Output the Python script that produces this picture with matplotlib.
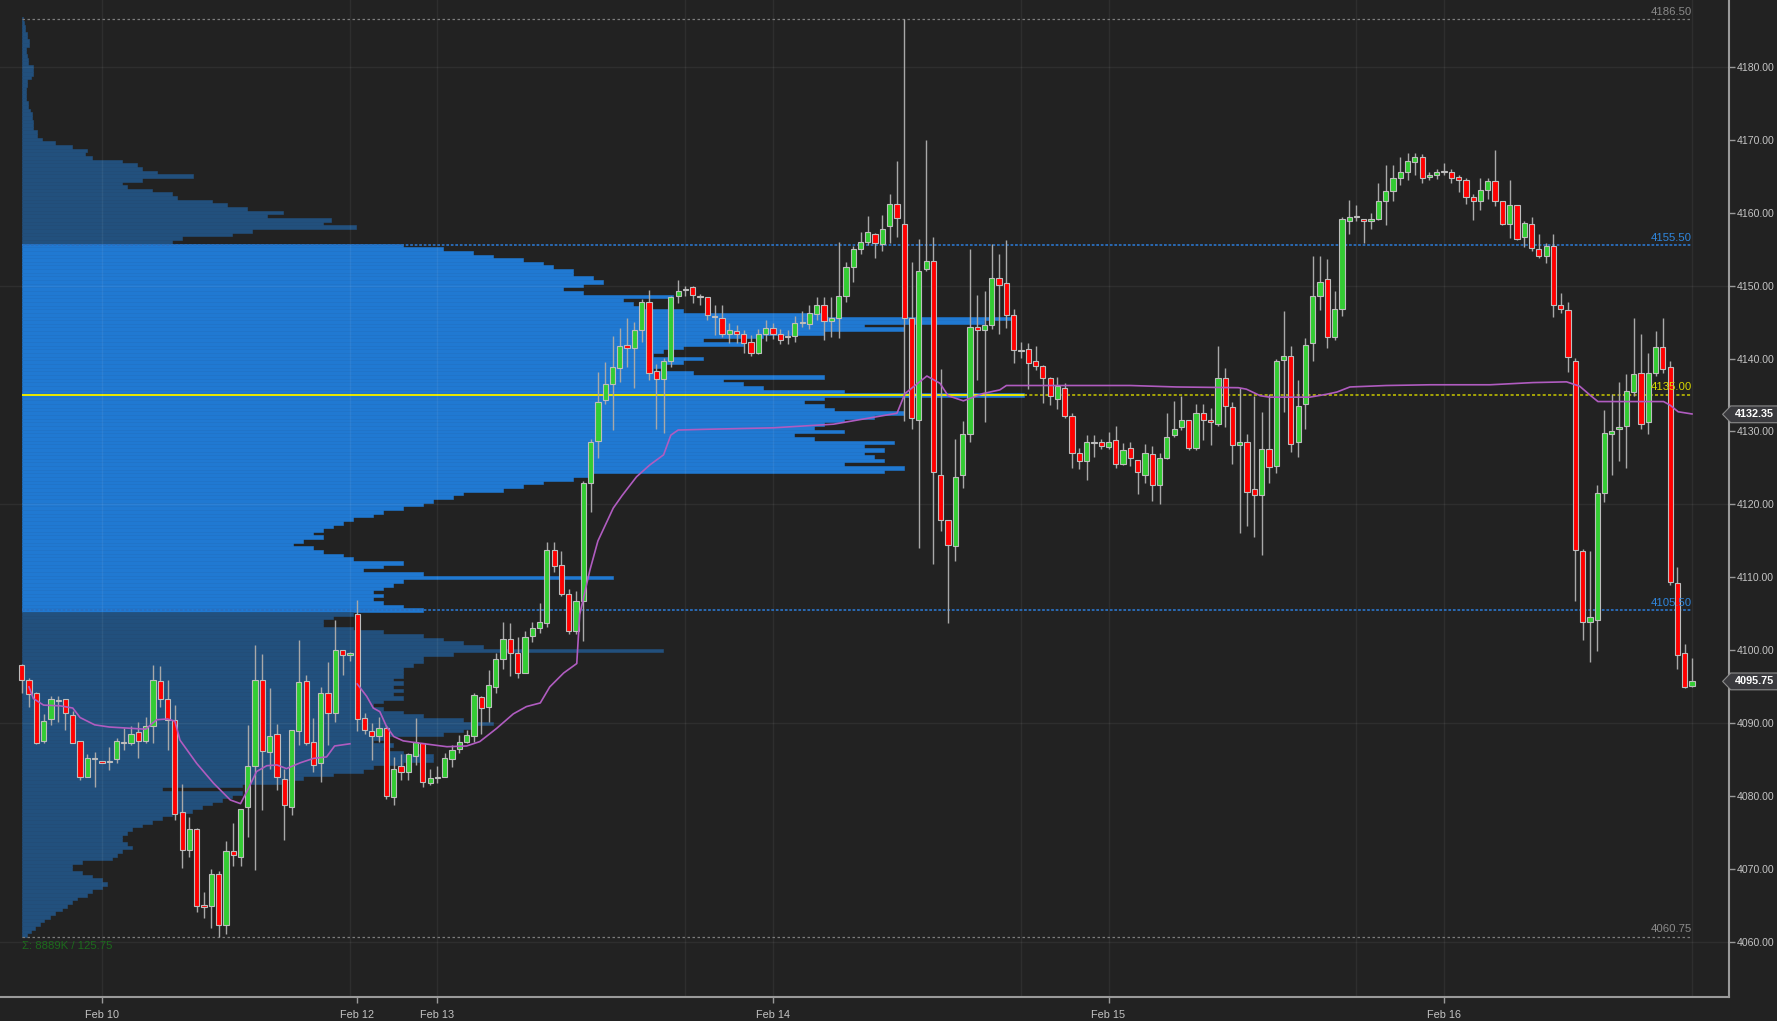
import numpy as np
import matplotlib
matplotlib.use("Agg")
import matplotlib.pyplot as plt
from matplotlib.patches import Polygon
from matplotlib.transforms import blended_transform_factory

plt.rcParams['font.family'] = ['Liberation Sans', 'DejaVu Sans']

# ES 30 min bars, Feb 9 evening .. Feb 16 close
opens = [
    4098.0, 4096.0, 4094.2, 4087.6, 4090.6, 4093.1, 4093.3, 4091.1, 4087.6, 4082.6,
    4085.1, 4084.8, 4084.7, 4085.1, 4087.5, 4087.3, 4088.8, 4087.6, 4089.6, 4095.8,
    4093.3, 4090.4, 4077.8, 4072.7, 4075.5, 4065.1, 4065.0, 4069.4, 4062.4, 4072.5,
    4071.7, 4078.5, 4084.1, 4095.9, 4086.1, 4088.5, 4082.4, 4078.5, 4089.0, 4095.8,
    4087.5, 4084.5, 4094.2, 4091.4, 4100.1, 4099.4, 4105.0, 4090.8, 4089.0, 4088.3,
    4089.3, 4079.9, 4084.1, 4083.4, 4085.5, 4087.3, 4081.8, 4082.5, 4082.7, 4085.1,
    4086.5, 4087.5, 4088.3, 4093.6, 4092.3, 4095.0, 4098.8, 4101.5, 4099.7, 4096.9,
    4102.0, 4103.0, 4103.7, 4113.8, 4111.7, 4107.7, 4102.7, 4106.7, 4122.9, 4128.7,
    4134.3, 4136.5, 4138.7, 4141.8, 4141.5, 4143.9, 4147.7, 4138.3, 4137.2, 4139.6,
    4148.5, 4149.4, 4149.8, 4148.6, 4148.4, 4145.7, 4145.6, 4143.3, 4143.8, 4143.3,
    4142.3, 4140.8, 4143.3, 4144.2, 4143.3, 4143.0, 4143.1, 4145.0, 4144.7, 4146.1,
    4147.3, 4145.1, 4145.6, 4148.6, 4152.6, 4155.0, 4156.0, 4157.1, 4155.7, 4158.1,
    4161.2, 4158.5, 4145.6, 4131.6, 4152.3, 4153.3, 4124.1, 4117.9, 4114.3, 4124.1,
    4129.6, 4144.3, 4143.9, 4144.6, 4151.0, 4150.4, 4146.0, 4141.0, 4141.3, 4139.6,
    4139.0, 4137.3, 4134.5, 4136.0, 4132.1, 4127.1, 4125.9, 4128.4, 4128.6, 4127.9,
    4128.8, 4125.5, 4127.8, 4126.1, 4124.1, 4126.9, 4122.6, 4126.3, 4129.5, 4130.6,
    4131.6, 4127.8, 4132.6, 4131.6, 4131.0, 4137.3, 4133.3, 4128.1, 4128.6, 4122.1,
    4121.3, 4127.6, 4125.3, 4139.8, 4140.3, 4128.6, 4133.8, 4142.1, 4148.6, 4150.9,
    4142.9, 4146.8, 4158.9, 4159.4, 4159.1, 4158.9, 4159.1, 4161.6, 4162.9, 4164.8,
    4165.5, 4166.9, 4167.6, 4164.9, 4165.2, 4165.6, 4165.5, 4164.9, 4164.4, 4162.1,
    4161.6, 4163.1, 4164.3, 4161.6, 4158.5, 4161.0, 4156.6, 4158.5, 4155.0, 4154.0,
    4155.4, 4147.3, 4146.6, 4139.7, 4113.6, 4103.9, 4104.2, 4121.6, 4129.7, 4130.3,
    4130.8, 4135.4, 4138.0, 4131.3, 4138.0, 4141.6, 4138.8, 4109.3, 4099.6, 4095.1]
highs = [
    4098.2, 4096.2, 4094.3, 4091.3, 4093.7, 4093.8, 4093.4, 4091.7, 4087.6, 4085.8,
    4086.1, 4084.8, 4086.8, 4088.0, 4089.3, 4089.6, 4090.2, 4090.9, 4098.0, 4097.8,
    4096.0, 4092.5, 4081.7, 4077.2, 4075.6, 4066.9, 4070.1, 4069.7, 4073.9, 4076.4,
    4078.2, 4089.8, 4100.7, 4099.5, 4094.8, 4089.9, 4083.8, 4089.1, 4101.4, 4096.6,
    4090.7, 4095.0, 4098.4, 4104.2, 4100.1, 4099.8, 4106.9, 4091.4, 4090.0, 4090.9,
    4089.8, 4085.4, 4085.8, 4085.9, 4090.7, 4087.3, 4083.8, 4084.1, 4085.9, 4087.0,
    4088.4, 4089.1, 4094.1, 4093.7, 4097.3, 4099.6, 4103.9, 4103.7, 4101.9, 4102.6,
    4103.9, 4106.5, 4114.8, 4114.8, 4113.6, 4108.4, 4108.2, 4123.2, 4129.0, 4138.2,
    4139.5, 4143.1, 4144.2, 4145.5, 4145.0, 4148.1, 4149.4, 4139.3, 4140.1, 4148.5,
    4150.7, 4150.0, 4150.0, 4148.8, 4148.4, 4147.4, 4147.4, 4144.8, 4144.6, 4143.9,
    4143.2, 4144.1, 4145.3, 4144.8, 4144.1, 4143.9, 4145.8, 4146.5, 4147.4, 4148.4,
    4148.4, 4148.4, 4156.0, 4153.2, 4155.4, 4157.4, 4159.5, 4157.2, 4159.7, 4162.6,
    4167.0, 4186.5, 4153.2, 4156.4, 4170.0, 4156.7, 4138.5, 4117.9, 4129.0, 4131.4,
    4155.0, 4148.7, 4149.3, 4155.7, 4154.3, 4156.2, 4146.8, 4142.2, 4142.1, 4141.7,
    4139.1, 4137.4, 4137.5, 4136.6, 4132.5, 4127.7, 4129.5, 4129.5, 4129.0, 4129.9,
    4130.8, 4128.4, 4128.6, 4126.1, 4128.3, 4128.0, 4127.0, 4132.5, 4134.2, 4134.8,
    4131.6, 4133.8, 4133.8, 4133.2, 4141.7, 4138.7, 4134.1, 4135.9, 4129.7, 4134.8,
    4132.7, 4135.2, 4140.0, 4146.5, 4141.7, 4137.1, 4142.8, 4154.0, 4154.0, 4153.7,
    4149.2, 4159.4, 4161.7, 4161.1, 4159.1, 4160.0, 4164.0, 4166.5, 4166.5, 4167.6,
    4168.2, 4168.2, 4168.0, 4165.6, 4166.0, 4166.8, 4166.0, 4165.1, 4164.8, 4162.6,
    4164.7, 4164.8, 4168.6, 4161.6, 4164.5, 4161.1, 4158.9, 4159.4, 4157.0, 4155.8,
    4157.0, 4149.0, 4147.7, 4140.1, 4113.9, 4113.6, 4122.7, 4133.0, 4135.1, 4136.8,
    4137.9, 4145.6, 4143.3, 4140.7, 4143.8, 4145.6, 4139.7, 4111.4, 4100.9, 4098.9]
lows = [
    4094.1, 4092.3, 4087.2, 4087.3, 4089.8, 4090.2, 4089.1, 4087.3, 4082.3, 4082.6,
    4081.3, 4084.5, 4083.6, 4084.5, 4086.4, 4087.0, 4085.2, 4087.3, 4087.3, 4092.3,
    4086.4, 4076.8, 4070.2, 4071.7, 4064.2, 4063.3, 4062.0, 4060.75, 4061.2, 4070.4,
    4070.4, 4074.4, 4069.9, 4078.1, 4083.8, 4080.8, 4074.0, 4077.4, 4087.0, 4087.0,
    4083.4, 4082.0, 4087.0, 4090.2, 4096.6, 4098.5, 4088.9, 4088.6, 4085.0, 4087.5,
    4079.6, 4078.8, 4082.3, 4082.3, 4084.3, 4081.3, 4081.6, 4081.8, 4082.6, 4084.0,
    4085.9, 4087.3, 4087.5, 4088.6, 4090.2, 4094.1, 4097.5, 4096.5, 4096.2, 4096.9,
    4101.1, 4102.4, 4103.2, 4110.8, 4107.5, 4102.3, 4102.3, 4101.3, 4119.0, 4126.3,
    4133.8, 4130.2, 4136.8, 4138.9, 4136.0, 4142.2, 4137.1, 4130.3, 4129.8, 4138.9,
    4147.6, 4148.6, 4147.6, 4147.4, 4145.3, 4143.2, 4142.9, 4142.1, 4142.1, 4140.8,
    4140.3, 4140.6, 4142.4, 4142.7, 4142.0, 4142.0, 4142.2, 4144.3, 4144.1, 4145.3,
    4142.5, 4143.0, 4142.8, 4147.7, 4150.5, 4154.3, 4155.5, 4153.8, 4154.8, 4155.8,
    4156.7, 4131.5, 4130.3, 4114.0, 4152.0, 4111.8, 4116.4, 4103.8, 4112.3, 4122.3,
    4128.6, 4137.0, 4131.3, 4144.0, 4143.3, 4144.2, 4139.4, 4140.1, 4135.8, 4138.4,
    4133.9, 4133.6, 4133.1, 4131.8, 4125.0, 4124.9, 4123.3, 4126.5, 4127.6, 4127.6,
    4125.0, 4125.4, 4125.3, 4121.5, 4122.9, 4120.5, 4120.0, 4126.2, 4129.3, 4130.2,
    4127.5, 4127.5, 4128.9, 4128.2, 4130.7, 4130.6, 4125.6, 4116.1, 4117.1, 4115.5,
    4113.1, 4123.0, 4124.3, 4132.7, 4127.2, 4126.5, 4130.3, 4139.6, 4146.7, 4141.5,
    4142.6, 4145.8, 4157.1, 4158.8, 4155.8, 4157.7, 4159.0, 4158.3, 4161.6, 4163.8,
    4164.5, 4165.1, 4164.1, 4164.4, 4164.6, 4165.1, 4164.0, 4162.8, 4161.2, 4159.0,
    4160.3, 4161.9, 4160.9, 4158.3, 4156.5, 4156.3, 4155.3, 4154.8, 4153.8, 4153.1,
    4145.7, 4146.3, 4138.1, 4106.7, 4101.4, 4098.4, 4099.9, 4120.3, 4124.0, 4126.0,
    4125.0, 4134.8, 4130.3, 4129.6, 4137.6, 4138.0, 4108.9, 4097.4, 4094.9, 4095.0]
closes = [
    4096.0, 4094.0, 4087.3, 4090.3, 4093.3, 4093.1, 4091.4, 4087.3, 4082.6, 4085.3,
    4085.1, 4084.5, 4084.7, 4087.6, 4087.3, 4088.5, 4087.6, 4089.6, 4096.0, 4093.3,
    4090.4, 4077.6, 4072.7, 4075.5, 4065.0, 4064.8, 4069.3, 4062.4, 4072.5, 4072.0,
    4078.2, 4084.1, 4095.9, 4086.2, 4088.3, 4082.6, 4078.8, 4089.1, 4095.6, 4087.3,
    4084.3, 4094.2, 4091.4, 4100.1, 4099.4, 4099.6, 4090.6, 4089.1, 4088.3, 4089.3,
    4080.0, 4083.7, 4083.4, 4085.8, 4087.5, 4081.9, 4082.5, 4082.5, 4085.2, 4086.4,
    4087.5, 4088.4, 4093.9, 4092.1, 4095.3, 4098.8, 4101.5, 4099.6, 4096.9, 4101.8,
    4103.0, 4103.9, 4113.8, 4111.6, 4107.7, 4102.7, 4106.7, 4122.9, 4128.6, 4134.1,
    4136.5, 4138.8, 4141.7, 4141.5, 4143.9, 4147.7, 4138.0, 4137.2, 4139.6, 4148.4,
    4149.3, 4149.4, 4148.7, 4148.4, 4145.9, 4145.7, 4143.3, 4143.9, 4143.3, 4142.1,
    4140.8, 4143.3, 4144.2, 4143.3, 4142.5, 4143.0, 4144.8, 4144.8, 4146.2, 4147.3,
    4145.1, 4145.6, 4148.6, 4152.6, 4155.0, 4156.0, 4157.3, 4155.8, 4157.8, 4161.2,
    4159.3, 4145.6, 4131.8, 4152.0, 4153.3, 4124.4, 4117.9, 4114.5, 4123.8, 4129.6,
    4144.3, 4143.9, 4144.6, 4151.0, 4150.1, 4146.0, 4141.2, 4141.0, 4139.4, 4139.0,
    4137.3, 4134.8, 4136.3, 4132.1, 4127.1, 4125.9, 4128.6, 4128.4, 4128.0, 4128.5,
    4125.5, 4127.5, 4126.3, 4124.4, 4127.0, 4122.6, 4126.3, 4129.3, 4130.3, 4131.6,
    4127.8, 4132.6, 4131.6, 4131.3, 4137.3, 4133.5, 4128.1, 4128.6, 4121.7, 4121.3,
    4127.6, 4125.1, 4139.7, 4140.3, 4128.3, 4133.5, 4141.8, 4148.6, 4150.5, 4142.9,
    4146.8, 4159.1, 4159.4, 4159.4, 4158.9, 4159.1, 4161.6, 4162.9, 4164.8, 4165.5,
    4167.1, 4167.6, 4164.8, 4165.2, 4165.5, 4165.6, 4164.8, 4164.4, 4162.1, 4161.6,
    4163.1, 4164.3, 4161.6, 4158.5, 4161.0, 4156.4, 4158.6, 4155.1, 4154.0, 4155.4,
    4147.3, 4146.8, 4140.2, 4113.8, 4103.9, 4104.6, 4121.6, 4129.8, 4130.0, 4130.6,
    4135.5, 4137.9, 4131.0, 4138.0, 4141.6, 4138.6, 4109.4, 4099.4, 4095.0, 4095.75]

# VWAP line, two anchored segments (bar position, value)
vwap1_bar = [1, 1.6, 3, 5.3, 7, 8, 10, 12, 17, 18.5, 20, 21, 21.7, 24, 26.3, 28.6,
             30, 31, 32.2, 33.6, 35, 36.3, 38.2, 40, 41.8, 42.9, 45]
vwap1_val = [4095.0, 4093.4, 4092.5, 4092.4, 4092.1, 4090.8, 4089.8, 4089.5, 4089.2,
             4090.5, 4090.6, 4090.3, 4087.7, 4084.5, 4081.8, 4079.5, 4079.0, 4080.9,
             4083.4, 4084.2, 4084.3, 4083.8, 4084.6, 4085.2, 4085.4, 4086.9, 4087.2]
vwap2_bar = [46, 47.3, 48.2, 49.1, 50, 51, 52.3, 53.7, 56, 58.3, 61, 62.8, 65.1, 67.4,
             69.2, 71.1, 72.4, 74.3, 76.1, 76.5, 77.9, 79, 81.1, 82.3, 84.3, 86.1, 88,
             89, 90, 93.9, 103, 111.3, 120, 121.1, 124.1, 125.9, 127, 129.1, 131.8,
             134.1, 135, 152, 158.3, 166.8, 167.9, 169.8, 171.1, 176.6, 178.9, 180.3,
             182.1, 187.1, 193.1, 201.3, 207.2, 211.8, 213.6, 215, 216.1, 218.7, 225.1,
             226, 227.1, 229]
vwap2_val = [4095.4, 4093.7, 4092.1, 4091.6, 4089.6, 4088.2, 4087.6, 4087.4, 4087.1,
             4086.8, 4086.9, 4087.5, 4089.3, 4091.3, 4092.3, 4092.8, 4095.0, 4096.9,
             4098.2, 4104.9, 4111.0, 4115.0, 4119.5, 4121.2, 4123.8, 4125.4, 4126.8,
             4129.5, 4130.2, 4130.3, 4130.5, 4131.0, 4132.5, 4135.2, 4137.6, 4136.6,
             4134.9, 4134.2, 4135.2, 4135.7, 4136.3, 4136.3, 4136.1, 4136.0, 4135.8,
             4134.9, 4134.7, 4134.7, 4135.1, 4135.4, 4136.1, 4136.3, 4136.4, 4136.4,
             4136.7, 4136.8, 4136.2, 4135.0, 4134.1, 4134.1, 4134.1, 4133.6, 4132.7,
             4132.4]

day_labels = ["Feb 10", "Feb 12", "Feb 13", "Feb 14", "Feb 15", "Feb 16"]
day_bars = [11, 46, 57, 103, 149, 195]
grid_bars = [11, 45, 57, 91, 103, 137, 149, 183, 195, 229]

# volume profile, K contracts per half point, from 4186.5 down to 4061.0
vp_top = 4186.5
vp_vol = [
    0.1, 0.2, 0.3, 0.3, 0.5, 0.5, 0.7, 0.7, 0.4, 0.4,
    0.5, 0.6, 0.6, 1.1, 1.1, 1.1, 0.9, 0.5, 0.5, 0.4,
    0.4, 0.4, 0.4, 0.6, 0.6, 0.8, 1.0, 1.0, 1.1, 1.1,
    1.1, 1.5, 1.5, 2.0, 3.3, 5.0, 6.5, 6.3, 7.0, 10.0,
    11.5, 12.0, 13.5, 17.1, 12.0, 10.0, 10.5, 13.0, 15.0, 15.5,
    19.0, 20.5, 22.5, 26.0, 24.5, 30.8, 30.0, 33.3, 23.0, 21.0,
    16.0, 15.0, 38, 42, 45, 47, 50, 52, 53, 55,
    55, 57, 58, 56, 54, 56, 65, 60, 61, 62,
    66, 80, 99, 96, 84, 88, 80, 74, 68, 72,
    66, 64, 63, 68, 66, 64, 63, 67, 80, 70,
    72, 74, 82, 100, 80, 78, 80, 81, 88, 85,
    82, 80, 79, 82, 77, 79, 87, 84, 86, 84,
    85, 86, 82, 88, 86, 57, 55, 52, 50, 48,
    44, 43, 41, 40, 38, 36, 35, 33, 32, 31,
    30, 29, 30, 28, 27, 29, 30, 32, 33, 38,
    36, 34, 40, 59, 38, 37, 36, 35, 36, 35,
    36, 38, 40, 33, 31, 30, 30, 33, 36, 40,
    42, 44, 46, 64, 43, 40, 40, 39, 38, 38,
    38, 37, 38, 37, 38, 37, 38, 36, 35, 36,
    38, 40, 44, 47, 45, 44, 42, 36, 35, 37,
    36, 38, 41, 41, 38, 35, 34, 31, 28, 26,
    22, 14, 22, 21, 20, 19, 18, 17, 15, 14,
    13, 12, 11, 10.5, 10, 10, 10.5, 11, 10, 9.5,
    9, 6, 5, 5, 6, 7, 8, 8.5, 8, 7,
    6.5, 5.5, 5, 4.5, 4, 3.3, 2.8, 2.2, 1.8, 1.3,
    0.9, 0.5]

vp_high = 4186.50
vp_low = 4060.75
vah = 4155.50
val = 4105.50
poc = 4135.00
total_k = 8889
last_price = 4095.75
vwap_last = 4132.35

BG = '#222222'
fig = plt.figure(figsize=(17.77, 10.21), dpi=100, facecolor=BG)
rect = [0.0, 24 / 1021, 1729 / 1777, 997 / 1021]
axp = fig.add_axes(rect)
axp.set_facecolor(BG)
ax = axp.twiny()
ax.xaxis.tick_bottom()

n = len(closes)
xb = np.arange(n)
ax.set_xlim(-2.975, 234.07)
axp.set_ylim(4052.5, 4189.13)
axp.set_xlim(-22 / 10.02, (1729 - 22) / 10.02)

# volume profile
vp_price = vp_top - 0.5 * np.arange(len(vp_vol))
in_va = (vp_price >= val) & (vp_price <= vah)
cols = np.where(in_va, '#2079d2', '#22507d')
axp.barh(vp_price, vp_vol, height=0.5, left=0, color=cols, edgecolor=cols,
         linewidth=0.4, zorder=1)
poc_vol = max(vp_vol)
axp.barh([poc], [poc_vol], height=0.3, left=0, color='#e6e600', linewidth=0, zorder=2)

# grid
for p in range(4060, 4190, 30):
    ax.axhline(p, color='#ffffff', alpha=0.06, lw=1, zorder=0.5)
for b in grid_bars:
    ax.axvline(b, color='#ffffff', alpha=0.06, lw=1, zorder=0.5)

# levels
dot = (0, (2, 2))
ax.hlines([vp_high, vp_low], 0, n - 1, colors='#7c7c7c', linestyles=dot, lw=0.9, zorder=2)
ax.hlines([vah, val], 0, n - 1, colors='#2a6fbf', linestyles=(0, (1.5, 1)), lw=1.3, zorder=2)
x_disp = axp.transData.transform((poc_vol, poc))[0]
poc_end = ax.transData.inverted().transform((x_disp, poc))[0]
ax.hlines(poc, poc_end, n - 1, colors='#c8c800', linestyles=(0, (2, 1.5)), lw=1.1, zorder=2)

for lv, c in [(vp_high, '#8a8a8a'), (vah, '#2f86dd'), (poc, '#d8d800'),
              (val, '#2f86dd'), (vp_low, '#8a8a8a')]:
    ax.text(n - 1, lv + 0.35, f"{lv:.2f}", ha='right', va='bottom', fontsize=8.2,
            color=c, zorder=6)

ax.text(0, vp_low - 0.6, f"\u03a3: {total_k}K / {vp_high - vp_low:.2f}", ha='left',
        va='top', fontsize=8.2, color='#1c6a1c', zorder=6)

# candles
o = np.array(opens)
c = np.array(closes)
h = np.array(highs)
l = np.array(lows)
ax.vlines(xb, l, h, color='#a8a8a8', lw=1, zorder=3)
body_col = np.where(c > o, '#33cc33', np.where(c < o, '#ff0000', '#9a9a9a'))
body_h = np.maximum(np.abs(c - o), 0.15)
ax.bar(xb, body_h, bottom=np.minimum(o, c), width=0.72, color=body_col,
       edgecolor='#bdbdbd', linewidth=0.8, zorder=4)

# VWAP
ax.plot(vwap1_bar, vwap1_val, color='#b05cc0', lw=1.2, zorder=5)
ax.plot(vwap2_bar, vwap2_val, color='#b05cc0', lw=1.2, zorder=5)

# axes styling
for s in ['top', 'left', 'right']:
    ax.spines[s].set_visible(False)
    axp.spines[s].set_visible(s == 'right')
axp.spines['top'].set_visible(False)
axp.spines['bottom'].set_visible(False)
ax.spines['bottom'].set_color('#9a9a9a')
ax.spines['bottom'].set_linewidth(1.5)
axp.spines['right'].set_color('#9a9a9a')
axp.spines['right'].set_linewidth(1.5)
axp.xaxis.set_visible(False)
axp.yaxis.tick_right()
axp.set_yticks(np.arange(4060, 4181, 10))
axp.set_yticklabels([f"{v:.2f}" for v in np.arange(4060, 4181, 10)])
axp.tick_params(axis='y', direction='out', length=4, width=1, color='#9a9a9a',
                labelcolor='#c4c4c4', labelsize=7.6, pad=1.5)
ax.set_xticks(day_bars)
ax.set_xticklabels(day_labels)
ax.tick_params(axis='x', direction='out', length=4, width=1, color='#9a9a9a',
               labelcolor='#c4c4c4', labelsize=7.8, pad=5)

# price tags on the right axis
tr = blended_transform_factory(axp.transAxes, axp.transData)
for v, txt in [(vwap_last, f"{vwap_last:.2f}"), (last_price, f"{last_price:.2f}")]:
    hh = 1.15
    tag = Polygon([(0.9963, v), (1.001, v + hh), (1.03, v + hh), (1.03, v - hh),
                   (1.001, v - hh)], closed=True, transform=tr, facecolor='#3a3a3e',
                  edgecolor='#8c8c8c', lw=0.8, clip_on=False, zorder=10)
    axp.add_patch(tag)
    axp.text(1.0145, v, txt, transform=tr, ha='center', va='center', fontsize=7.8,
             color='white', fontweight='bold', zorder=11, clip_on=False)

fig.savefig("out.png", dpi=100, facecolor=BG)
